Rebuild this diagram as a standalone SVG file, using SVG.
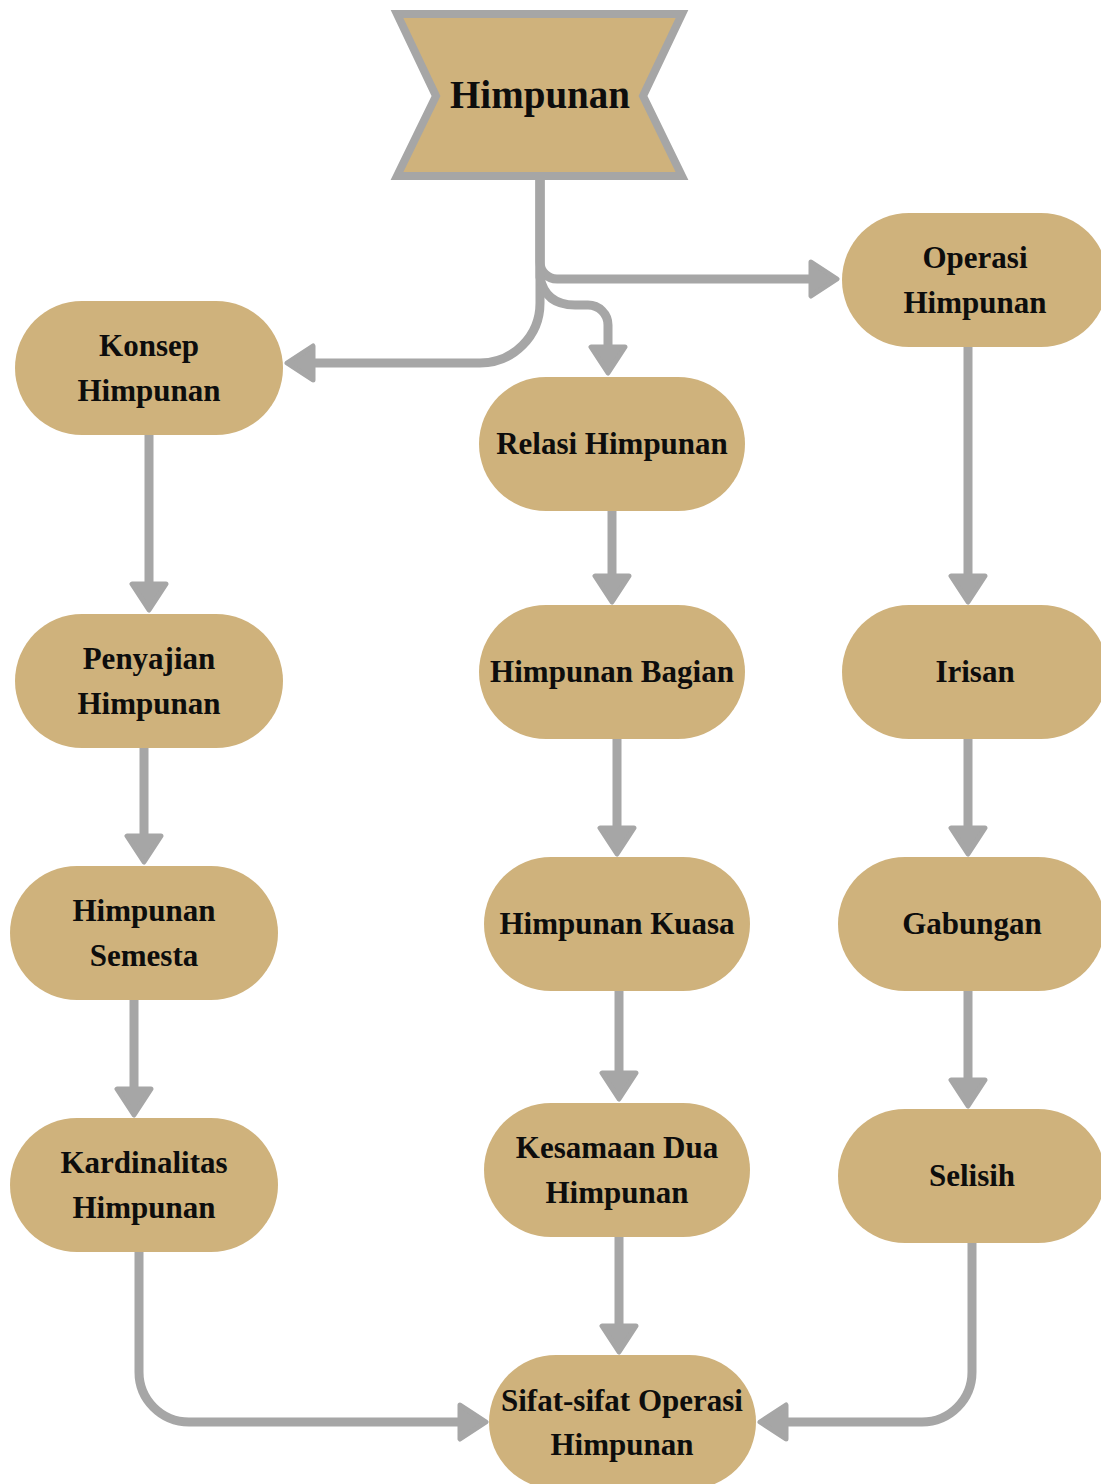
<svg xmlns="http://www.w3.org/2000/svg" width="1101" height="1484" viewBox="0 0 1101 1484">
  <style>
    .node { fill: #CFB27C; }
    .label { font-family: "Liberation Serif", "DejaVu Serif", serif; font-weight: bold; font-size: 31px; fill: #0D0D0D; text-anchor: middle; }
    .title { font-size: 39px; }
    .link { fill: none; stroke: #A6A6A6; stroke-width: 9; marker-end: url(#arrow); }
  </style>
  <defs>
    <marker id="arrow" viewBox="0 0 32 40" refX="2" refY="20" markerWidth="32" markerHeight="40" markerUnits="userSpaceOnUse" orient="auto">
      <path d="M3,3 L29,20 L3,37 Z" fill="#A6A6A6" stroke="#A6A6A6" stroke-width="5" stroke-linejoin="round"/>
    </marker>
  </defs>

  <rect width="1101" height="1484" fill="#FFFFFF"/>

  <!-- root node -->
  <g id="himpunan">
    <polygon points="397,14 682,14 643,96 682,176 397,176 436,96" fill="#CFB27C" stroke="#A6A6A6" stroke-width="8"/>
    <text class="label title" x="540" y="108">Himpunan</text>
  </g>

  <g id="konsep-himpunan">
    <rect class="node" x="15" y="301" width="268" height="134" rx="67"/>
    <text class="label" x="149" y="356">Konsep</text>
    <text class="label" x="149" y="401">Himpunan</text>
  </g>

  <g id="relasi-himpunan">
    <rect class="node" x="479" y="377" width="266" height="134" rx="67"/>
    <text class="label" x="612" y="454">Relasi Himpunan</text>
  </g>

  <g id="operasi-himpunan">
    <rect class="node" x="842" y="213" width="266" height="134" rx="67"/>
    <text class="label" x="975" y="268">Operasi</text>
    <text class="label" x="975" y="313">Himpunan</text>
  </g>

  <g id="penyajian-himpunan">
    <rect class="node" x="15" y="614" width="268" height="134" rx="67"/>
    <text class="label" x="149" y="669">Penyajian</text>
    <text class="label" x="149" y="714">Himpunan</text>
  </g>

  <g id="himpunan-bagian">
    <rect class="node" x="479" y="605" width="266" height="134" rx="67"/>
    <text class="label" x="612" y="682">Himpunan Bagian</text>
  </g>

  <g id="irisan">
    <rect class="node" x="842" y="605" width="266" height="134" rx="67"/>
    <text class="label" x="975" y="682">Irisan</text>
  </g>

  <g id="himpunan-semesta">
    <rect class="node" x="10" y="866" width="268" height="134" rx="67"/>
    <text class="label" x="144" y="921">Himpunan</text>
    <text class="label" x="144" y="966">Semesta</text>
  </g>

  <g id="himpunan-kuasa">
    <rect class="node" x="484" y="857" width="266" height="134" rx="67"/>
    <text class="label" x="617" y="934">Himpunan Kuasa</text>
  </g>

  <g id="gabungan">
    <rect class="node" x="838" y="857" width="267" height="134" rx="67"/>
    <text class="label" x="972" y="934">Gabungan</text>
  </g>

  <g id="kardinalitas-himpunan">
    <rect class="node" x="10" y="1118" width="268" height="134" rx="67"/>
    <text class="label" x="144" y="1173">Kardinalitas</text>
    <text class="label" x="144" y="1218">Himpunan</text>
  </g>

  <g id="kesamaan-dua-himpunan">
    <rect class="node" x="484" y="1103" width="266" height="134" rx="67"/>
    <text class="label" x="617" y="1158">Kesamaan Dua</text>
    <text class="label" x="617" y="1203">Himpunan</text>
  </g>

  <g id="selisih">
    <rect class="node" x="838" y="1109" width="267" height="134" rx="67"/>
    <text class="label" x="972" y="1186">Selisih</text>
  </g>

  <g id="sifat-sifat-operasi-himpunan">
    <rect class="node" x="489" y="1355" width="267" height="134" rx="67"/>
    <text class="label" x="622" y="1411">Sifat-sifat Operasi</text>
    <text class="label" x="622" y="1455">Himpunan</text>
  </g>

  <!-- connectors -->
  <g id="connectors">
    <path class="link" d="M540,180 V262 A17,17 0 0 0 557,279 H810"/>
    <path class="link" d="M540,180 V303 A60,60 0 0 1 480,363 H314"/>
    <path class="link" d="M540,180 V277 Q545,305 575,305 H588 A20,20 0 0 1 608,325 V346"/>

    <path class="link" d="M149,435 V583"/>
    <path class="link" d="M144,748 V835"/>
    <path class="link" d="M134,1000 V1088"/>

    <path class="link" d="M612,511 V575"/>
    <path class="link" d="M617,739 V827"/>
    <path class="link" d="M619,991 V1072"/>
    <path class="link" d="M619,1237 V1325"/>

    <path class="link" d="M968,347 V575"/>
    <path class="link" d="M968,739 V827"/>
    <path class="link" d="M968,991 V1079"/>

    <path class="link" d="M139,1252 V1372 A50,50 0 0 0 189,1422 H459"/>
    <path class="link" d="M972,1243 V1372 A50,50 0 0 1 922,1422 H787"/>
  </g>
</svg>
